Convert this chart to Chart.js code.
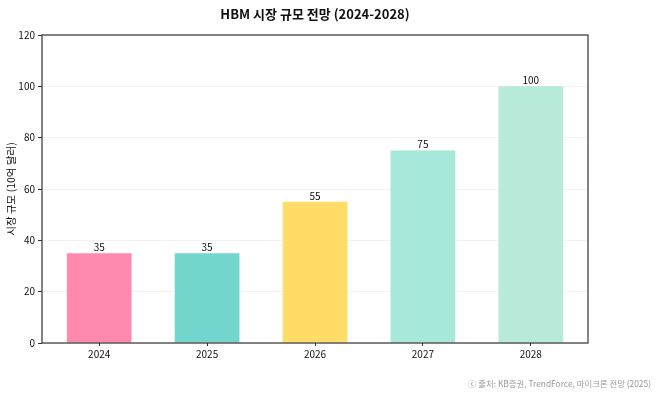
<!DOCTYPE html>
<html>
<head>
<meta charset="utf-8">
<script src="https://cdn.jsdelivr.net/npm/chart.js@4"></script>
<style>
html,body{margin:0;padding:0;background:#fff;}
#wrap{width:658px;height:395px;position:relative;}
</style>
</head>
<body>
<div id="wrap"><canvas id="c" width="658" height="395"></canvas></div>
<script>
const categories = ['2024', '2025', '2026', '2027', '2028'];
const values = [35, 35, 55, 75, 100];
const barColors = ['#FF8AAE', '#72D6CE', '#FFDD66', '#A6E8DA', '#B8EAD9'];
const yTicks = [0, 20, 40, 60, 80, 100, 120];
const titleText = 'HBM 시장 규모 전망 (2024-2028)';
const yTitle = '시장 규모 (10억 달러)';
const sourceText = 'ⓒ 출처: KB증권, TrendForce, 마이크론 전망 (2025)';

const FONT = "'Noto Sans CJK KR', 'Noto Sans', sans-serif";

const extras = {
  id: 'extras',
  afterDatasetsDraw(chart) {
    const ctx = chart.ctx;
    const a = chart.chartArea;
    ctx.save();
    ctx.font = '10px ' + FONT;
    ctx.fillStyle = '#111';
    ctx.textAlign = 'center';
    ctx.textBaseline = 'bottom';
    chart.getDatasetMeta(0).data.forEach((bar, i) => {
      ctx.fillText(String(values[i]), bar.x, bar.y - 1);
    });
    ctx.strokeStyle = '#333';
    ctx.lineWidth = 1.2;
    ctx.strokeRect(a.left, a.top, a.right - a.left, a.bottom - a.top);
    ctx.restore();
  },
  afterDraw(chart) {
    const ctx = chart.ctx;
    ctx.save();
    ctx.font = '8.4px ' + FONT;
    ctx.fillStyle = '#999';
    ctx.textAlign = 'right';
    ctx.textBaseline = 'alphabetic';
    ctx.fillText(sourceText, 651, 387);
    ctx.restore();
  }
};

new Chart(document.getElementById('c'), {
  type: 'bar',
  data: {
    datasets: [{
      data: values.map((v, i) => ({ x: i, y: v })),
      backgroundColor: barColors,
      borderWidth: 0,
      categoryPercentage: 0.6,
      barPercentage: 1.0
    }]
  },
  options: {
    responsive: false,
    animation: false,
    layout: { padding: { left: 0, right: 70, top: 0, bottom: 0 } },
    plugins: {
      legend: { display: false },
      tooltip: { enabled: false },
      title: {
        display: true,
        text: titleText,
        fullSize: false,
        color: '#111',
        font: { family: FONT, size: 13, weight: 'bold', lineHeight: 1.2 },
        padding: { top: 6, bottom: 13.4 }
      }
    },
    scales: {
      x: {
        type: 'linear',
        min: -0.53,
        max: 4.53,
        offset: false,
        border: { display: false },
        grid: { offset: false, drawOnChartArea: false, drawTicks: true, tickLength: 3, tickColor: '#333' },
        afterBuildTicks(scale) { scale.ticks = categories.map((c, i) => ({ value: i })); },
        ticks: {
          autoSkip: false,
          maxRotation: 0,
          padding: 2,
          color: '#111',
          font: { family: FONT, size: 10 },
          callback: (v) => categories[Math.round(v)]
        },
        afterFit(scale) { scale.height = 52; }
      },
      y: {
        min: 0,
        max: 120,
        border: { display: false },
        grid: { color: 'rgba(0,0,0,0.05)', tickColor: '#333', tickLength: 4 },
        afterBuildTicks(scale) { scale.ticks = yTicks.map(v => ({ value: v })); },
        ticks: {
          padding: 3,
          color: '#111',
          font: { family: FONT, size: 10 }
        },
        title: {
          display: true,
          text: yTitle,
          color: '#111',
          font: { family: FONT, size: 10.5 },
          padding: { top: 5, bottom: 0 }
        },
        afterFit(scale) { scale.width = 42; }
      }
    }
  },
  plugins: [extras]
});
</script>
</body>
</html>
